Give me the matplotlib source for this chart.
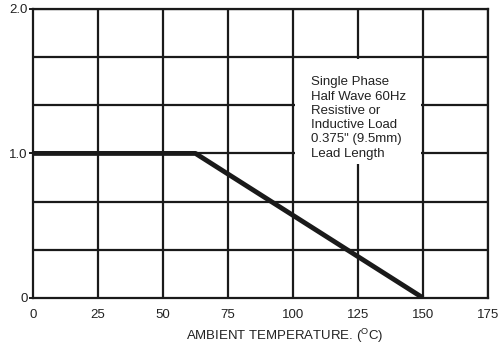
import matplotlib
matplotlib.use("Agg")
import matplotlib.pyplot as plt
from matplotlib.patches import Rectangle

plt.rcParams['font.family'] = ['Liberation Sans', 'DejaVu Sans']
plt.rcParams['mathtext.fontset'] = 'custom'
plt.rcParams['mathtext.rm'] = 'Liberation Sans'

temp = [0, 62.5, 150]
current = [1.0, 1.0, 0.0]
xticks = [0, 25, 50, 75, 100, 125, 150, 175]
yticks = [0, 1.0, 2.0]
ytick_labels = ["0", "1.0", "2.0"]
ygrid = [1/3, 2/3, 1.0, 4/3, 5/3]
note = "Single Phase\nHalf Wave 60Hz\nResistive or\nInductive Load\n0.375\" (9.5mm)\nLead Length"

fig = plt.figure(figsize=(5.0, 3.44), dpi=100)
ax = fig.add_axes([0.066, 0.134, 0.910, 0.840])
ax.set_xlim(0, 175)
ax.set_ylim(0, 2.0)

gc = '#1a1a1a'
for x in xticks[1:]:
    ax.axvline(x, color=gc, lw=1.6, zorder=1)
for y in ygrid + [2.0]:
    ax.axhline(y, color=gc, lw=1.6, zorder=1)

ax.add_patch(Rectangle((100.8, 0.93), 48.4, 0.725, facecolor='white', edgecolor='none', zorder=2))
ax.text(106.8, 1.245, note, ha='left', va='center', fontsize=9.5, linespacing=1.25, color='#222222', zorder=3)

ax.plot(temp, current, color='#1a1a1a', lw=3.5, solid_capstyle='butt', zorder=4)

for s in ax.spines.values():
    s.set_color(gc)
    s.set_linewidth(1.6)

ax.set_xticks(xticks)
ax.set_xticklabels([str(v) for v in xticks])
ax.set_yticks(yticks)
ax.set_yticklabels(ytick_labels)
ax.tick_params(axis='both', length=3, width=1.4, color=gc, labelsize=9.5, labelcolor='#222222', pad=1)
ax.tick_params(axis='x', length=0, pad=8)
ax.set_xlabel("AMBIENT TEMPERATURE. ($\\mathregular{^{O}}$C)", fontsize=9.5, color='#222222', labelpad=4, x=0.554)

fig.savefig("out.png", dpi=100)
